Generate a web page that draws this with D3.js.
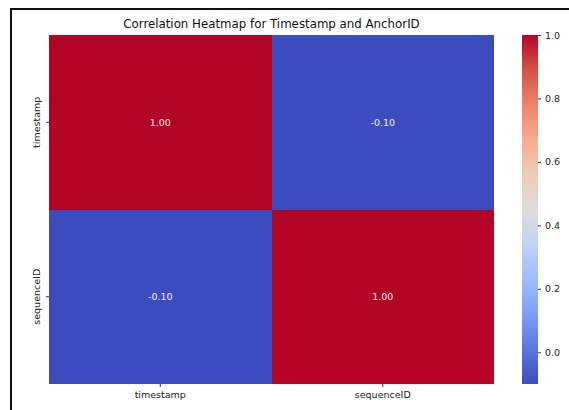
<!DOCTYPE html>
<html lang="en">
<head>
<meta charset="utf-8">
<title>Correlation Heatmap</title>
<script src="https://cdnjs.cloudflare.com/ajax/libs/d3/7.8.5/d3.min.js"></script>
<style>
  body { margin: 0; background: #fff; }
  svg { display: block; font-family: "DejaVu Sans", sans-serif; }
</style>
</head>
<body>
<div id="chart"></div>
<script>
// data
const labels = ['timestamp', 'sequenceID'];
const corr = [
  [1.00, -0.10],
  [-0.10, 1.00]
];
const cbarTicks = [0.0, 0.2, 0.4, 0.6, 0.8, 1.0];
const vmin = -0.10, vmax = 1.00;
// coolwarm sampled at 0, 0.1 ... 1
const coolwarm = ['#3b4cc0', '#5977e3', '#7b9ff9', '#9ebeff', '#c0d4f5', '#dddcdc',
                  '#f2cbb7', '#f7ac8e', '#ee8468', '#d65244', '#b40426'];

const W = 569, H = 410;
const pLeft = 49, pTop = 35, pRight = 494, pBottom = 384;
const cbX = 522, cbW = 16;

const svg = d3.select('#chart').append('svg')
  .attr('width', W).attr('height', H);

// frame from the screenshot
svg.append('path')
  .attr('d', 'M11,' + H + 'V9H' + W)
  .attr('fill', 'none')
  .attr('stroke', '#111')
  .attr('stroke-width', 2);

const x = d3.scaleBand().domain(labels).range([pLeft, pRight]);
const y = d3.scaleBand().domain(labels).range([pTop, pBottom]);

const norm = d3.scaleLinear().domain([vmin, vmax]).range([0, 1]).clamp(true);
const cmap = d3.scaleLinear()
  .domain(coolwarm.map((c, i) => i / (coolwarm.length - 1)))
  .range(coolwarm)
  .interpolate(d3.interpolateRgb);
const color = v => cmap(norm(v));

const cells = [];
labels.forEach((r, i) => labels.forEach((c, j) => cells.push({row: r, col: c, v: corr[i][j]})));

svg.append('g').selectAll('rect')
  .data(cells)
  .enter().append('rect')
    .attr('x', d => x(d.col))
    .attr('y', d => y(d.row))
    .attr('width', x.bandwidth())
    .attr('height', y.bandwidth())
    .attr('shape-rendering', 'crispEdges')
    .attr('fill', d => color(d.v));

svg.append('g').selectAll('text')
  .data(cells)
  .enter().append('text')
    .attr('x', d => x(d.col) + x.bandwidth() / 2)
    .attr('y', d => y(d.row) + y.bandwidth() / 2)
    .attr('dy', '0.35em')
    .attr('text-anchor', 'middle')
    .attr('font-size', 9.5)
    .attr('fill', '#f4f0f4')
    .text(d => d.v.toFixed(2));

// axes
const xAxis = svg.append('g')
  .attr('transform', 'translate(0,' + pBottom + ')')
  .call(d3.axisBottom(x).tickSize(3).tickPadding(4));
const yAxis = svg.append('g')
  .attr('transform', 'translate(' + pLeft + ',0)')
  .call(d3.axisLeft(y).tickSize(3).tickPadding(3));
[xAxis, yAxis].forEach(a => {
  a.select('.domain').remove();
  a.selectAll('line').attr('stroke', '#333');
  a.selectAll('text').attr('font-size', 9.5).attr('fill', '#222')
    .attr('font-family', '"DejaVu Sans", sans-serif');
});
yAxis.selectAll('text')
  .attr('transform', 'rotate(-90)')
  .attr('text-anchor', 'middle')
  .attr('x', 0).attr('y', -9).attr('dy', null);

// colorbar
const cb = d3.scaleLinear().domain([vmin, vmax]).range([pBottom, pTop]);
const grad = svg.append('defs').append('linearGradient')
  .attr('id', 'cw').attr('x1', 0).attr('y1', 1).attr('x2', 0).attr('y2', 0);
grad.selectAll('stop')
  .data(coolwarm)
  .enter().append('stop')
    .attr('offset', (d, i) => i / (coolwarm.length - 1))
    .attr('stop-color', d => d);
svg.append('rect')
  .attr('x', cbX).attr('y', pTop)
  .attr('width', cbW).attr('height', pBottom - pTop)
  .attr('fill', 'url(#cw)');
const cbAxis = svg.append('g')
  .attr('transform', 'translate(' + (cbX + cbW) + ',0)')
  .call(d3.axisRight(cb).tickValues(cbarTicks).tickFormat(d3.format('.1f')).tickSize(3).tickPadding(4));
cbAxis.select('.domain').remove();
cbAxis.selectAll('line').attr('stroke', '#333');
cbAxis.selectAll('text').attr('font-size', 9.5).attr('fill', '#222')
  .attr('font-family', '"DejaVu Sans", sans-serif');

// title
svg.append('text')
  .attr('x', (pLeft + pRight) / 2)
  .attr('y', 28)
  .attr('text-anchor', 'middle')
  .attr('font-size', 11.8)
  .attr('fill', '#111')
  .text('Correlation Heatmap for Timestamp and AnchorID');
</script>
</body>
</html>
